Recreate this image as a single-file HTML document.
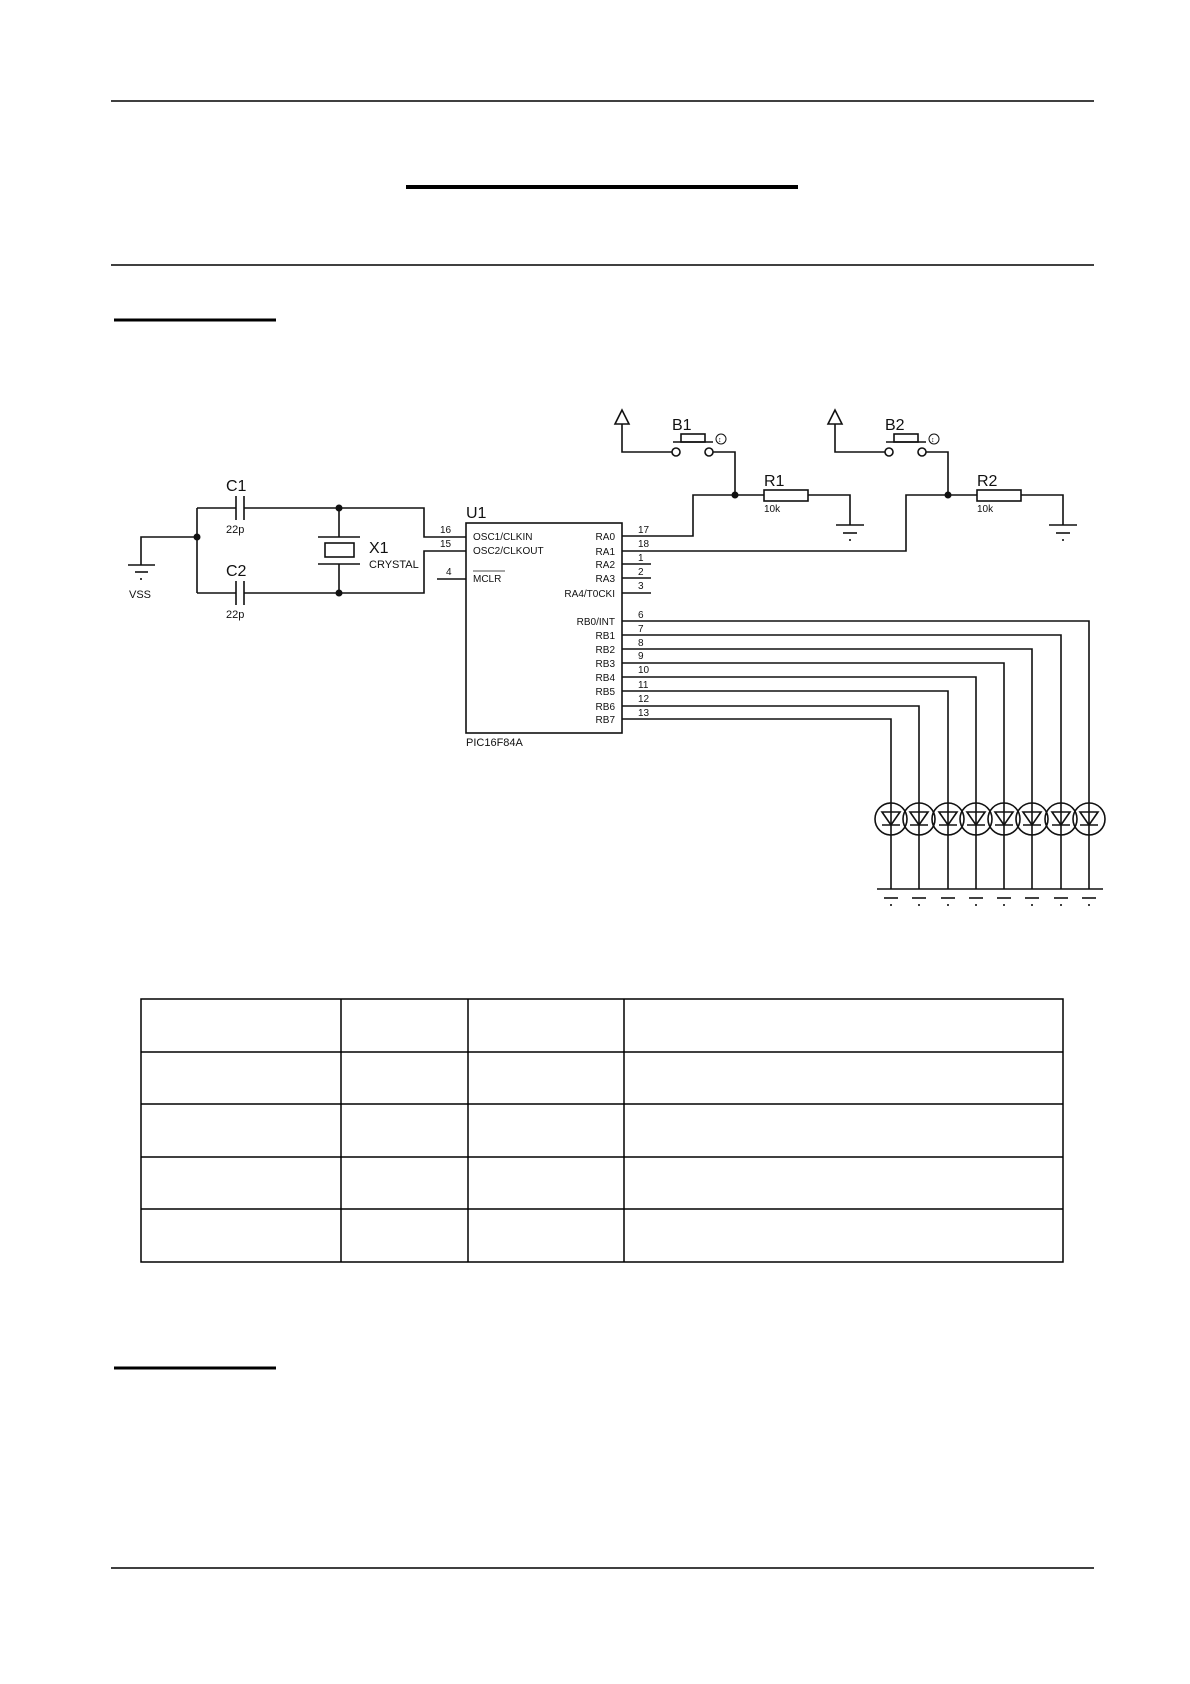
<!DOCTYPE html>
<html><head><meta charset="utf-8"><style>
html,body{margin:0;padding:0;background:#fff}
svg{display:block}
text{font-family:"Liberation Sans",Arial,sans-serif;fill:#111}
</style></head><body>
<svg width="1190" height="1684" viewBox="0 0 1190 1684" xmlns="http://www.w3.org/2000/svg">
<g stroke="#000" fill="none">
<line x1="111" y1="101" x2="1094" y2="101" stroke-width="1.5"/>
<line x1="406" y1="187" x2="798" y2="187" stroke-width="4"/>
<line x1="111" y1="265" x2="1094" y2="265" stroke-width="1.5"/>
<line x1="114" y1="320" x2="276" y2="320" stroke-width="3"/>
<line x1="114" y1="1368" x2="276" y2="1368" stroke-width="3"/>
<line x1="111" y1="1568" x2="1094" y2="1568" stroke-width="1.5"/>
<rect x="141" y="999" width="922" height="263" stroke-width="1.5"/>
<line x1="141" y1="1052" x2="1063" y2="1052" stroke-width="1.5"/>
<line x1="141" y1="1104" x2="1063" y2="1104" stroke-width="1.5"/>
<line x1="141" y1="1157" x2="1063" y2="1157" stroke-width="1.5"/>
<line x1="141" y1="1209" x2="1063" y2="1209" stroke-width="1.5"/>
<line x1="341" y1="999" x2="341" y2="1262" stroke-width="1.5"/>
<line x1="468" y1="999" x2="468" y2="1262" stroke-width="1.5"/>
<line x1="624" y1="999" x2="624" y2="1262" stroke-width="1.5"/>
</g>
<g stroke="#111" stroke-width="1.6" fill="none">
<polyline points="141,565 141,537 197,537"/>
<line x1="128" y1="565" x2="155" y2="565"/>
<line x1="135" y1="572" x2="148" y2="572"/>
<line x1="140" y1="579" x2="142" y2="579"/>
<line x1="197" y1="508" x2="197" y2="593"/>
<line x1="197" y1="508" x2="236" y2="508"/>
<line x1="236" y1="496" x2="236" y2="520"/>
<line x1="244" y1="496" x2="244" y2="520"/>
<polyline points="244,508 424,508 424,537 466,537"/>
<line x1="197" y1="593" x2="236" y2="593"/>
<line x1="236" y1="581" x2="236" y2="605"/>
<line x1="244" y1="581" x2="244" y2="605"/>
<polyline points="244,593 424,593 424,551 466,551"/>
<line x1="339" y1="508" x2="339" y2="537"/>
<line x1="318" y1="537" x2="360" y2="537"/>
<rect x="325" y="543" width="29" height="14"/>
<line x1="318" y1="564" x2="360" y2="564"/>
<line x1="339" y1="564" x2="339" y2="593"/>
<line x1="437" y1="579" x2="466" y2="579"/>
<rect x="466" y="523" width="156" height="210"/>
<line x1="622" y1="564" x2="651" y2="564"/>
<line x1="622" y1="578" x2="651" y2="578"/>
<line x1="622" y1="593" x2="651" y2="593"/>
<polyline points="622,536 693,536 693,495 764,495"/>
<polyline points="735,495 735,452 713,452"/>
<circle cx="709" cy="452" r="4"/>
<circle cx="676" cy="452" r="4"/>
<polyline points="672,452 622,452 622,424"/>
<polygon points="622,410 615,424 629,424"/>
<line x1="673" y1="442" x2="713" y2="442"/>
<rect x="681" y="434" width="24" height="8"/>
<circle cx="721" cy="439" r="5" stroke-width="1"/>
<rect x="764" y="490" width="44" height="11"/>
<polyline points="808,495 850,495 850,525"/>
<line x1="836" y1="525" x2="864" y2="525"/>
<line x1="843" y1="533" x2="857" y2="533"/>
<line x1="849" y1="540" x2="851" y2="540"/>
<polyline points="622,551 906,551 906,495 977,495"/>
<polyline points="948,495 948,452 926,452"/>
<circle cx="922" cy="452" r="4"/>
<circle cx="889" cy="452" r="4"/>
<polyline points="885,452 835,452 835,424"/>
<polygon points="835,410 828,424 842,424"/>
<line x1="886" y1="442" x2="926" y2="442"/>
<rect x="894" y="434" width="24" height="8"/>
<circle cx="934" cy="439" r="5" stroke-width="1"/>
<rect x="977" y="490" width="44" height="11"/>
<polyline points="1021,495 1063,495 1063,525"/>
<line x1="1049" y1="525" x2="1077" y2="525"/>
<line x1="1056" y1="533" x2="1070" y2="533"/>
<line x1="1062" y1="540" x2="1064" y2="540"/>
<polyline points="622,621 1089,621 1089,889"/>
<polyline points="622,635 1061,635 1061,889"/>
<polyline points="622,649 1032,649 1032,889"/>
<polyline points="622,663 1004,663 1004,889"/>
<polyline points="622,677 976,677 976,889"/>
<polyline points="622,691 948,691 948,889"/>
<polyline points="622,706 919,706 919,889"/>
<polyline points="622,719 891,719 891,889"/>
<line x1="877" y1="889" x2="1103" y2="889"/>
</g>
<g stroke="#111" stroke-width="1.6" fill="none">
<g id="led"><circle cx="891" cy="819" r="16"/><polygon points="882,812 900,812 891,825"/><line x1="882" y1="825" x2="900" y2="825"/><line x1="884" y1="898" x2="898" y2="898"/><line x1="890" y1="905" x2="892" y2="905"/></g>
<use href="#led" x="28"/>
<use href="#led" x="57"/>
<use href="#led" x="85"/>
<use href="#led" x="113"/>
<use href="#led" x="141"/>
<use href="#led" x="170"/>
<use href="#led" x="198"/>
</g>
<g fill="#111" stroke="none">
<circle cx="197" cy="537" r="3.5"/>
<circle cx="339" cy="508" r="3.5"/>
<circle cx="339" cy="593" r="3.5"/>
<circle cx="735" cy="495" r="3.5"/>
<circle cx="948" cy="495" r="3.5"/>
</g>
<g font-size="11">
<text x="129" y="598" font-size="11">VSS</text>
<text x="226" y="491" font-size="16">C1</text>
<text x="226" y="533">22p</text>
<text x="226" y="576" font-size="16">C2</text>
<text x="226" y="618">22p</text>
<text x="369" y="553" font-size="16">X1</text>
<text x="369" y="568">CRYSTAL</text>
<text x="466" y="518" font-size="16">U1</text>
<text x="466" y="746">PIC16F84A</text>
<text x="440" y="533" font-size="10">16</text>
<text x="440" y="547" font-size="10">15</text>
<text x="446" y="575" font-size="10">4</text>
<text x="473" y="540" font-size="10">OSC1/CLKIN</text>
<text x="473" y="554" font-size="10">OSC2/CLKOUT</text>
<text x="473" y="582" font-size="10">MCLR</text>
<line x1="473" y1="571" x2="505" y2="571" stroke="#111" stroke-width="0.8"/>
<g text-anchor="end" font-size="10">
<text x="615" y="540">RA0</text><text x="615" y="555">RA1</text><text x="615" y="568">RA2</text>
<text x="615" y="582">RA3</text><text x="615" y="597">RA4/T0CKI</text>
<text x="615" y="625">RB0/INT</text><text x="615" y="639">RB1</text><text x="615" y="653">RB2</text>
<text x="615" y="667">RB3</text><text x="615" y="681">RB4</text><text x="615" y="695">RB5</text>
<text x="615" y="710">RB6</text><text x="615" y="723">RB7</text>
</g>
<g font-size="10">
<text x="638" y="533">17</text><text x="638" y="547">18</text><text x="638" y="561">1</text>
<text x="638" y="575">2</text><text x="638" y="589">3</text>
<text x="638" y="618">6</text><text x="638" y="632">7</text><text x="638" y="646">8</text>
<text x="638" y="659">9</text><text x="638" y="673">10</text><text x="638" y="688">11</text>
<text x="638" y="702">12</text><text x="638" y="716">13</text>
</g>
<text x="672" y="430" font-size="16">B1</text>
<text x="885" y="430" font-size="16">B2</text>
<text x="764" y="486" font-size="16">R1</text>
<text x="977" y="486" font-size="16">R2</text>
<text x="764" y="512" font-size="10">10k</text>
<text x="977" y="512" font-size="10">10k</text>
<text x="718" y="442" font-size="7">↕</text>
<text x="931" y="442" font-size="7">↕</text>
</g>
</svg>
</body></html>
